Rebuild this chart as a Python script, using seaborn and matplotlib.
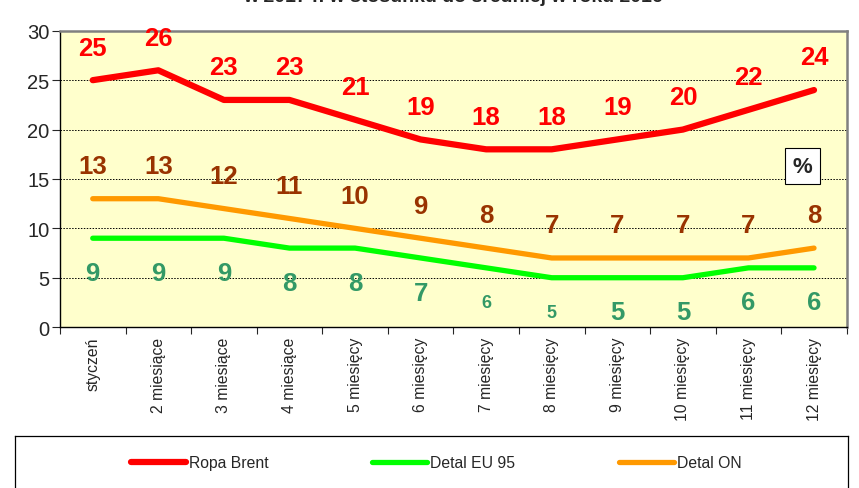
import pandas as pd
import seaborn as sns
import matplotlib.pyplot as plt

months = ['styczeń', '2 miesiące', '3 miesiące', '4 miesiące', '5 miesięcy', '6 miesięcy',
          '7 miesięcy', '8 miesięcy', '9 miesięcy', '10 miesięcy', '11 miesięcy', '12 miesięcy']
brent = [25, 26, 23, 23, 21, 19, 18, 18, 19, 20, 22, 24]
eu95 = [9, 9, 9, 8, 8, 7, 6, 5, 5, 5, 6, 6]
on = [13, 13, 12, 11, 10, 9, 8, 7, 7, 7, 7, 8]

series = ['Ropa Brent', 'Detal EU 95', 'Detal ON']
df = pd.DataFrame({
    'x': list(range(12)) * 3,
    'val': brent + eu95 + on,
    'seria': [s for s in series for _ in range(12)],
})

sns.set_style('white')
plt.rcParams['font.family'] = ['Liberation Sans', 'DejaVu Sans']

fig = plt.figure(figsize=(8.59, 4.89), dpi=100)
ax = fig.add_axes([0.0698, 0.329, 0.916, 0.606])
ax.set_facecolor('#FFFFCC')

palette = {'Ropa Brent': '#FF0000', 'Detal EU 95': '#00FF00', 'Detal ON': '#FF9900'}
sns.lineplot(data=df, x='x', y='val', hue='seria', palette=palette, ax=ax,
             linewidth=3.8, legend=False, sort=False)
for ln in ax.lines:
    ln.set_solid_capstyle('round')
ax.lines[0].set_linewidth(4.5)

# value labels
for i, v in enumerate(brent):
    ax.text(i, v + 3.3, str(v), color='#FF0000', fontsize=18.5, fontweight='bold',
            ha='center', va='center')
for i, v in enumerate(on):
    ax.text(i, v + 3.3, str(v), color='#993300', fontsize=18.5, fontweight='bold',
            ha='center', va='center')
for i, v in enumerate(eu95):
    fs = 13 if i in (6, 7) else 18.5
    ax.text(i, v - 3.5, str(v), color='#339966', fontsize=fs, fontweight='bold',
            ha='center', va='center')

ax.text(10.82, 16.3, '%', fontsize=16, fontweight='bold', ha='center', va='center',
        bbox=dict(boxstyle='square,pad=0.35', fc='white', ec='black', lw=0.8))

ax.set_xlim(-0.5, 11.5)
ax.set_ylim(0, 30)
ax.set_yticks(range(0, 31, 5))
ax.tick_params(axis='y', labelsize=14.5, length=6, width=0.8, direction='out', left=True, pad=1.5)
ax.set_xticks(range(12))
ax.set_xticklabels(months, rotation=90, fontsize=11.3)
ax.set_xticks([i - 0.5 for i in range(13)], minor=True)
ax.tick_params(axis='x', which='major', length=0, pad=7)
ax.tick_params(axis='x', which='minor', length=5, width=0.8, bottom=True)
ax.set_xlabel('')
ax.set_ylabel('')

for y in range(5, 30, 5):
    ax.axhline(y, color='black', lw=0.7, ls=(0, (1.5, 1.5)), zorder=0.5)

for side in ['left', 'bottom']:
    ax.spines[side].set_color('black')
    ax.spines[side].set_linewidth(1.0)
for side in ['top', 'right']:
    ax.spines[side].set_color('#808080')
    ax.spines[side].set_linewidth(1.8)

# legend box at the bottom
leg_ax = fig.add_axes([15 / 859, -0.05, 833 / 859, (489 - 437) / 489 + 0.05])
leg_ax.set_xlim(0, 859)
leg_ax.set_ylim(0, 1)
leg_ax.set_xticks([])
leg_ax.set_yticks([])
for s in leg_ax.spines.values():
    s.set_linewidth(0.9)
    s.set_color('black')
fig.legend(handles=ax.lines[:3], labels=series, loc='center', bbox_to_anchor=(0.508, 1 - 464 / 489),
           ncol=3, frameon=False, fontsize=11.3, handlelength=3.5, handletextpad=0.2,
           columnspacing=6.6)

fig.text(453 / 859, 1.005, 'w 2017 r. w stosunku do średniej w roku 2016', ha='center', va='center',
         fontsize=14, fontweight='bold')

fig.savefig('out.png', dpi=100)
